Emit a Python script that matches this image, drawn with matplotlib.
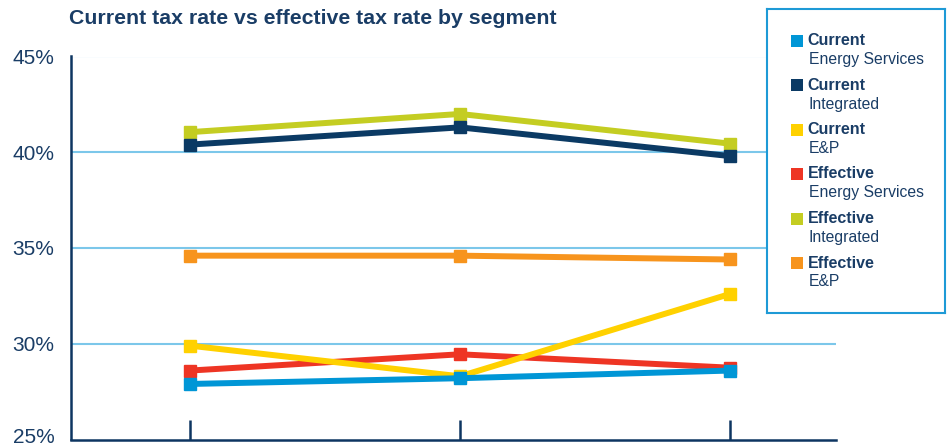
import matplotlib
matplotlib.use("Agg")
import matplotlib.pyplot as plt
import matplotlib.transforms as mtransforms
from matplotlib.patches import Rectangle

plt.rcParams['font.family'] = ['Liberation Sans', 'DejaVu Sans']

# ---- data ----
periods = [0, 1, 2]
series_names = ["Current", "Current", "Current", "Effective", "Effective", "Effective"]
series_segments = ["Energy Services", "Integrated", "E&P", "Energy Services", "Integrated", "E&P"]
current_energy_services = [27.9, 28.2, 28.6]
current_integrated = [40.4, 41.3, 39.8]
current_ep = [29.9, 28.3, 32.6]
effective_energy_services = [28.6, 29.45, 28.75]
effective_integrated = [41.05, 42.0, 40.45]
effective_ep = [34.6, 34.6, 34.4]
series_values = [current_energy_services, current_integrated, current_ep,
                 effective_energy_services, effective_integrated, effective_ep]
series_colors = ["#0096d6", "#0b3a64", "#ffd100", "#ee3524", "#c4cd22", "#f7941d"]
y_ticks = [25, 30, 35, 40, 45]
y_tick_labels = ["25%", "30%", "35%", "40%", "45%"]
title = "Current tax rate vs effective tax rate by segment"

navy = "#0d3561"
text_col = "#1a3d66"
grid_col = "#7cc7ea"

W, H = 951, 446
fig = plt.figure(figsize=(W / 100, H / 100), dpi=100)
ax = fig.add_axes([71 / W, 1 - 439.5 / H, (836 - 71) / W, (439.5 - 56.5) / H])

for i in reversed(range(len(series_values))):
    ax.plot(periods, series_values[i], color=series_colors[i], lw=4.3,
            marker="s", markersize=8, solid_joinstyle="miter", zorder=10 - i)

ax.set_xlim(-0.4407, 2.3926)
ax.set_ylim(25, 45)
ax.set_yticks(y_ticks)
ax.set_yticklabels(y_tick_labels, fontsize=15, color=text_col)
ax.tick_params(axis="y", length=0, pad=12)
# keep the bottom label inside the canvas
lbl0 = ax.get_yticklabels()[0]
lbl0.set_transform(lbl0.get_transform() +
                   mtransforms.ScaledTranslation(0, 4 / 100, fig.dpi_scale_trans))
ax.set_xticks(periods)
ax.set_xticklabels([])
ax.tick_params(axis="x", direction="in", length=14.5, width=1.8, color=navy)
for v in y_ticks[1:]:
    ax.axhline(v, color=grid_col, lw=1.5, zorder=1)
for s in ["top", "right"]:
    ax.spines[s].set_visible(False)
for s in ["left", "bottom"]:
    ax.spines[s].set_color(navy)
    ax.spines[s].set_linewidth(1.8)
    ax.spines[s].set_zorder(20)

fig.text(69 / W, 1 - 18 / H, title, fontsize=15.3, fontweight="bold",
         color=text_col, va="center", ha="left")

# ---- legend box ----
lx0, ly0, lx1, ly1 = 767, 9, 945, 313
lax = fig.add_axes([lx0 / W, 1 - ly1 / H, (lx1 - lx0) / W, (ly1 - ly0) / H])
lax.set_xlim(0, lx1 - lx0)
lax.set_ylim(ly1 - ly0, 0)
lax.set_xticks([])
lax.set_yticks([])
lax.set_facecolor("white")
for s in lax.spines.values():
    s.set_color("#1e9ad6")
    s.set_linewidth(1.5)
for k in range(len(series_names)):
    yc = 31.5 + 44.5 * k
    lax.add_patch(Rectangle((24, yc - 6), 12, 12, color=series_colors[k], lw=0))
    lax.text(40.5, yc, series_names[k], fontsize=11.5, fontweight="bold",
             color=text_col, va="center", ha="left")
    lax.text(42, yc + 19, series_segments[k], fontsize=11.3,
             color=text_col, va="center", ha="left")

fig.savefig("out.png", dpi=100)
